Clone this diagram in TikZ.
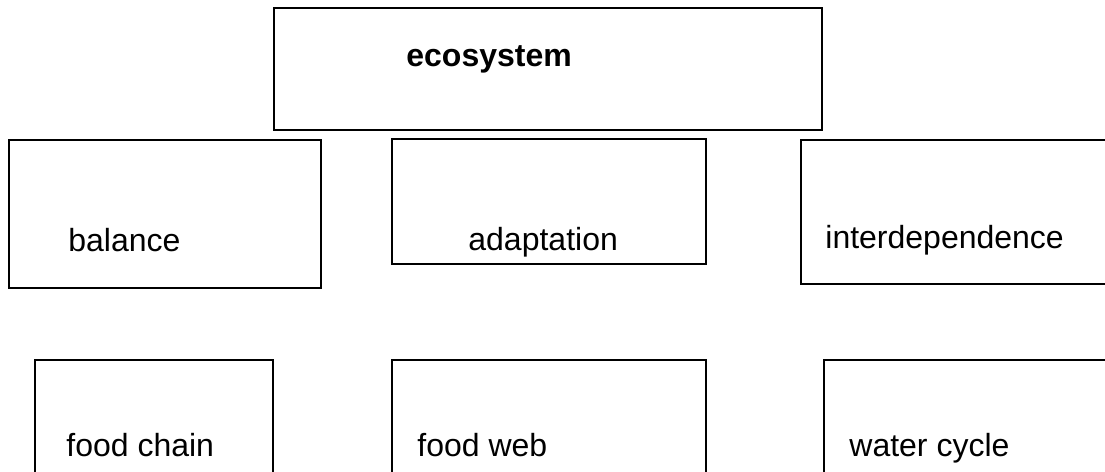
\documentclass[tikz,border=0pt]{standalone}
\usepackage{fontspec}
\setmainfont{Liberation Sans}
\begin{document}
\begin{tikzpicture}[x=0.5pt,y=-0.5pt,
  box/.style={draw=black,line width=0.75pt},
  thickbox/.style={draw=black,line width=1.2pt},
  lbl/.style={inner sep=0pt,anchor=base west,font=\fontsize{16}{19}\selectfont}]
\useasboundingbox (0,0) rectangle (1105,472);
\fill[white] (0,0) rectangle (1105,472);
\clip (0,0) rectangle (1105,472);
% boxes
\draw[box] (274,8) rectangle (822,130);
\draw[box] (9,140) rectangle (321,288);
\draw[thickbox] (392,139) rectangle (706,264);
\draw[box] (801,140) rectangle (1120,284);
\draw[box] (35,360) rectangle (273,490);
\draw[box] (392,360) rectangle (706,490);
\draw[box] (824,360) rectangle (1120,490);
% labels
\node[lbl,font=\fontsize{16}{19}\selectfont\bfseries] (teco) at (406,66) {ecosystem};
\node[lbl] (tbal) at (68,251) {balance};
\node[lbl] (tada) at (468,250) {adaptation};
\node[lbl] (tint) at (825,248) {interdependence};
\node[lbl] (tfc) at (66,456) {food chain};
\node[lbl] (tfw) at (417,456) {food web};
\node[lbl] (twc) at (849,456) {water cycle};
\end{tikzpicture}
\end{document}
